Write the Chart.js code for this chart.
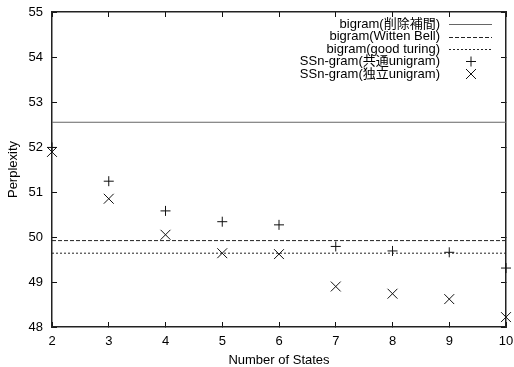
<!DOCTYPE html>
<html>
<head>
<meta charset="utf-8">
<script src="https://cdn.jsdelivr.net/npm/chart.js@4/dist/chart.umd.min.js"></script>
<style>
html,body{margin:0;padding:0;background:#fff;}
#wrap{width:514px;height:367px;}
</style>
</head>
<body>
<div id="wrap"><canvas id="c" width="514" height="367"></canvas></div>
<script>
const states = [2, 3, 4, 5, 6, 7, 8, 9, 10];
const sharedUnigram = [51.99, 51.24, 50.58, 50.34, 50.27, 49.79, 49.69, 49.66, 49.31];
const indepUnigram  = [51.89, 50.85, 50.05, 49.64, 49.62, 48.90, 48.74, 48.62, 48.22];
const bigramDeleted = 52.55;
const bigramWitten = 49.92;
const bigramGood = 49.64;
const xRange = [2, 10];
const yRange = [48, 55];
const labels = ['bigram(削除補間)', 'bigram(Witten Bell)', 'bigram(good turing)', 'SSn-gram(共通unigram)', 'SSn-gram(独立unigram)'];

const FONT = '"Liberation Sans", Arial, "Noto Sans CJK JP", sans-serif';

function hline(v) { return xRange.map(x => ({x: x, y: v})); }
function pts(arr) { return states.map((s, i) => ({x: s, y: arr[i]})); }

const datasets = [
  {label: labels[0], data: hline(bigramDeleted), showLine: true, borderColor: '#666', borderWidth: 1, pointRadius: 0, dash: []},
  {label: labels[1], data: hline(bigramWitten), showLine: true, borderColor: '#222', borderWidth: 1, pointRadius: 0, borderDash: [4, 2], dash: [4, 2]},
  {label: labels[2], data: hline(bigramGood), showLine: true, borderColor: '#222', borderWidth: 1, pointRadius: 0, borderDash: [2, 2], dash: [2, 2]},
  {label: labels[3], data: pts(sharedUnigram), showLine: false, pointStyle: 'cross', pointRadius: 5, borderColor: '#111', borderWidth: 1, backgroundColor: '#111', clip: false},
  {label: labels[4], data: pts(indepUnigram), showLine: false, pointStyle: 'crossRot', pointRadius: 7, borderColor: '#111', borderWidth: 1, backgroundColor: '#111', clip: false}
];

const legendBox = {
  id: 'legendBox',
  afterDraw(chart) {
    const ctx = chart.ctx;
    ctx.save();
    ctx.font = '13px ' + FONT;
    ctx.textAlign = 'right';
    ctx.textBaseline = 'middle';
    ctx.lineWidth = 1;
    const rows = [24, 36.5, 49, 61.5, 74];
    const tx = 440, s0 = 449, s1 = 492, mx = 471;
    chart.data.datasets.forEach((d, i) => {
      const y = rows[i];
      ctx.fillStyle = '#000';
      ctx.fillText(d.label, tx, y);
      ctx.strokeStyle = d.borderColor;
      if (i < 3) {
        ctx.setLineDash(d.dash);
        ctx.beginPath();
        ctx.moveTo(s0, Math.round(y) + 0.5); ctx.lineTo(s1, Math.round(y) + 0.5);
        ctx.stroke();
        ctx.setLineDash([]);
      } else {
        ctx.beginPath();
        if (i === 3) {
          ctx.moveTo(mx - 5, y); ctx.lineTo(mx + 5, y);
          ctx.moveTo(mx, y - 5); ctx.lineTo(mx, y + 5);
        } else {
          ctx.moveTo(mx - 5, y - 5); ctx.lineTo(mx + 5, y + 5);
          ctx.moveTo(mx + 5, y - 5); ctx.lineTo(mx - 5, y + 5);
        }
        ctx.stroke();
      }
    });
    ctx.restore();
  }
};

const gridIn = {display: true, drawOnChartArea: false, drawTicks: true, tickLength: -5, color: '#111', lineWidth: 1};
const borderOn = {display: true, color: '#222', width: 1.5};
const tickFont = {family: FONT, size: 13};
function noPad(s) { s.paddingTop = 0; s.paddingBottom = 0; s.paddingLeft = 0; s.paddingRight = 0; }

new Chart(document.getElementById('c'), {
  type: 'scatter',
  data: {datasets},
  options: {
    responsive: false,
    animation: false,
    devicePixelRatio: 1,
    layout: {padding: 0},
    plugins: {legend: {display: false}, tooltip: {enabled: false}},
    scales: {
      x: {
        type: 'linear', axis: 'x', position: 'bottom', min: xRange[0], max: xRange[1],
        ticks: {stepSize: 1, color: '#000', font: tickFont, padding: 12, maxRotation: 0},
        grid: gridIn,
        border: borderOn,
        title: {display: true, text: 'Number of States', color: '#000', font: tickFont, padding: {top: 3, bottom: -1}},
        afterFit(s) { s.height = 40; noPad(s); }
      },
      x2: {
        type: 'linear', axis: 'x', position: 'top', min: xRange[0], max: xRange[1],
        ticks: {stepSize: 1, display: false},
        grid: gridIn,
        border: borderOn,
        afterFit(s) { s.height = 12; noPad(s); }
      },
      y: {
        type: 'linear', axis: 'y', position: 'left', min: yRange[0], max: yRange[1],
        ticks: {stepSize: 1, color: '#000', font: tickFont, padding: 14},
        grid: gridIn,
        border: borderOn,
        title: {display: true, text: 'Perplexity', color: '#000', font: tickFont, padding: {top: 6, bottom: 0}},
        afterFit(s) { s.width = 52; noPad(s); }
      },
      y2: {
        type: 'linear', axis: 'y', position: 'right', min: yRange[0], max: yRange[1],
        ticks: {stepSize: 1, display: false},
        grid: gridIn,
        border: borderOn,
        afterFit(s) { s.width = 8; noPad(s); }
      }
    }
  },
  plugins: [legendBox]
});
</script>
</body>
</html>
